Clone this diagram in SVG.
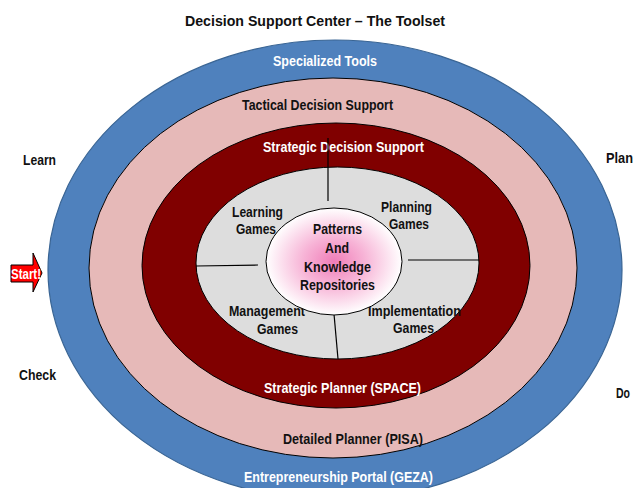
<svg xmlns="http://www.w3.org/2000/svg" width="637" height="488" viewBox="0 0 637 488">
<style>
text{font-family:"Liberation Sans",Arial,sans-serif;font-weight:bold;font-size:15px}
.w{fill:#ffffff}
.k{fill:#111111}
.ring{stroke:#000;stroke-width:1}
.div{stroke:#000;stroke-width:1.2;fill:none}
</style>
<defs>
<radialGradient id="core" cx="50%" cy="50%" r="50%">
<stop offset="0" stop-color="#F07DB8"/>
<stop offset="0.45" stop-color="#F7B3D6"/>
<stop offset="1" stop-color="#FFFFFF"/>
</radialGradient>
</defs>
<rect width="637" height="488" fill="#fff"/>
<text class="k" x="185" y="26" font-size="16" textLength="260" lengthAdjust="spacingAndGlyphs">Decision Support Center – The Toolset</text>
<g id="specialized-tools">
<ellipse cx="335" cy="270" rx="287" ry="230" fill="#4F81BD" stroke="#3A6594" stroke-width="1.2"/>
<text class="w" x="273" y="66" textLength="104" lengthAdjust="spacingAndGlyphs">Specialized Tools</text>
<text class="w" x="244" y="482" textLength="189" lengthAdjust="spacingAndGlyphs">Entrepreneurship Portal (GEZA)</text>
</g>
<g id="tactical">
<ellipse class="ring" cx="333" cy="268" rx="244" ry="190" fill="#E6B9B8"/>
<text class="k" x="242" y="110" textLength="151" lengthAdjust="spacingAndGlyphs">Tactical Decision Support</text>
<text class="k" x="283" y="444" textLength="140" lengthAdjust="spacingAndGlyphs">Detailed  Planner (PISA)</text>
</g>
<g id="strategic">
<ellipse class="ring" cx="336" cy="265.5" rx="194" ry="142.5" fill="#800000"/>
<text class="w" x="263" y="152" textLength="161" lengthAdjust="spacingAndGlyphs">Strategic Decision Support</text>
<text class="w" x="264" y="393" textLength="157" lengthAdjust="spacingAndGlyphs">Strategic Planner (SPACE)</text>
</g>
<g id="games">
<ellipse class="ring" cx="337.5" cy="263" rx="141.5" ry="96" fill="#DDDDDD"/>
</g>
<g id="connectors">
<line class="div" x1="328" y1="138" x2="328" y2="201"/>
<line class="div" x1="196" y1="266" x2="258" y2="265"/>
<line class="div" x1="408" y1="260" x2="479" y2="260"/>
<line class="div" x1="334" y1="314" x2="338" y2="359"/>
</g>
<g id="learning-games">
<text class="k" x="232" y="217" textLength="51" lengthAdjust="spacingAndGlyphs">Learning</text>
<text class="k" x="236" y="234" textLength="40" lengthAdjust="spacingAndGlyphs">Games</text>
</g>
<g id="planning-games">
<text class="k" x="381" y="212" textLength="51" lengthAdjust="spacingAndGlyphs">Planning</text>
<text class="k" x="389" y="229" textLength="40" lengthAdjust="spacingAndGlyphs">Games</text>
</g>
<g id="management-games">
<text class="k" x="229" y="316" textLength="76" lengthAdjust="spacingAndGlyphs">Management</text>
<text class="k" x="257" y="334" textLength="41" lengthAdjust="spacingAndGlyphs">Games</text>
</g>
<g id="implementation-games">
<text class="k" x="368" y="316" textLength="93" lengthAdjust="spacingAndGlyphs">Implementation</text>
<text class="k" x="393" y="333" textLength="41" lengthAdjust="spacingAndGlyphs">Games</text>
</g>
<g id="repositories">
<ellipse class="ring" cx="334" cy="261.5" rx="68" ry="53.5" fill="url(#core)"/>
<text class="k" x="313" y="234" textLength="49" lengthAdjust="spacingAndGlyphs">Patterns</text>
<text class="k" x="325" y="253" textLength="24" lengthAdjust="spacingAndGlyphs">And</text>
<text class="k" x="304" y="272" textLength="67" lengthAdjust="spacingAndGlyphs">Knowledge</text>
<text class="k" x="300" y="290" textLength="75" lengthAdjust="spacingAndGlyphs">Repositories</text>
</g>
<g id="learn"><text class="k" x="23" y="165" textLength="33" lengthAdjust="spacingAndGlyphs">Learn</text></g>
<g id="check"><text class="k" x="19" y="380" textLength="37" lengthAdjust="spacingAndGlyphs">Check</text></g>
<g id="plan"><text class="k" x="606" y="163" textLength="27" lengthAdjust="spacingAndGlyphs">Plan</text></g>
<g id="do"><text class="k" x="616" y="398" textLength="14" lengthAdjust="spacingAndGlyphs">Do</text></g>
<g id="start">
<path d="M11,265 L33,265 L33,253 L42,273 L33,292 L33,282 L11,282 Z" fill="#FF0000" stroke="#000" stroke-width="1"/>
<text class="w" x="11" y="279" font-size="14" textLength="30" lengthAdjust="spacingAndGlyphs">Start!</text>
</g>
</svg>
